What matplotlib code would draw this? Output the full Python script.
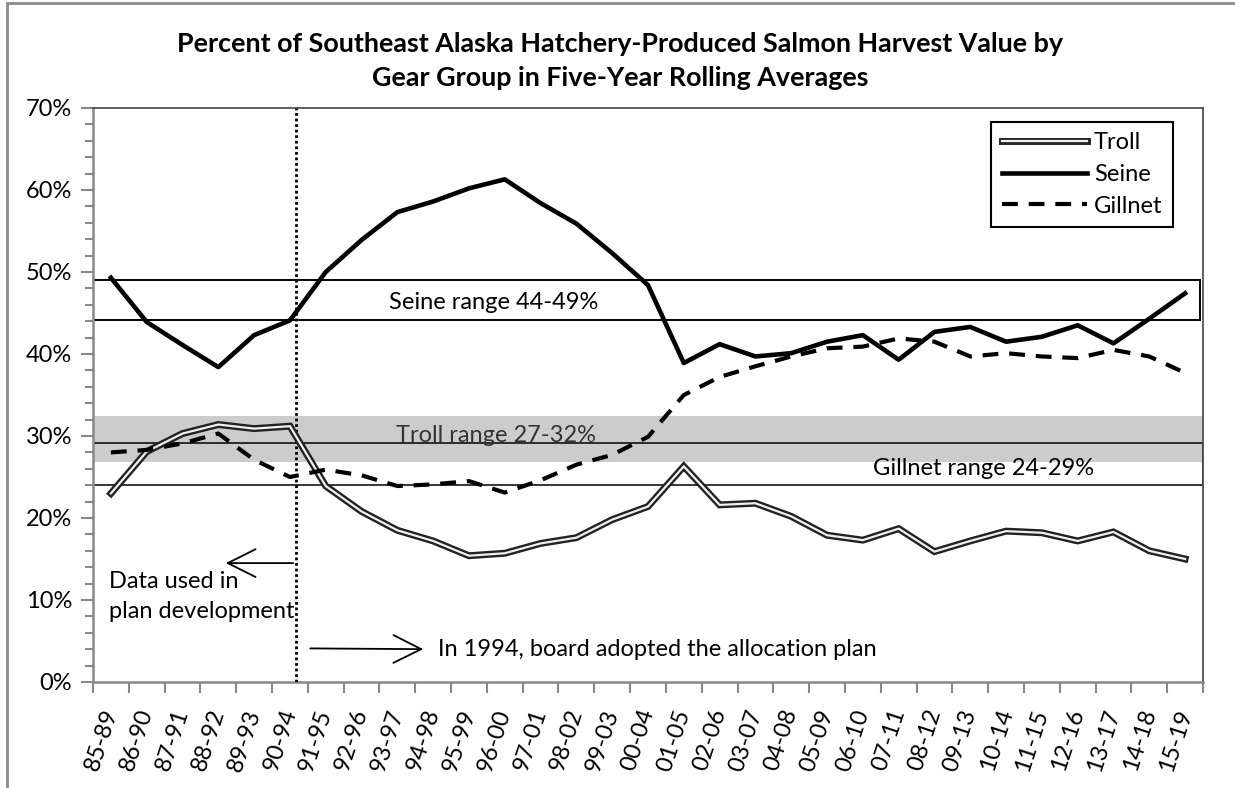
import matplotlib
matplotlib.use("Agg")
import matplotlib.pyplot as plt
import matplotlib.patheffects as pe
from matplotlib.patches import Rectangle

plt.rcParams['font.family'] = ['Lato', 'DejaVu Sans']

periods = ['85-89', '86-90', '87-91', '88-92', '89-93', '90-94', '91-95', '92-96',
           '93-97', '94-98', '95-99', '96-00', '97-01', '98-02', '99-03', '00-04',
           '01-05', '02-06', '03-07', '04-08', '05-09', '06-10', '07-11', '08-12',
           '09-13', '10-14', '11-15', '12-16', '13-17', '14-18', '15-19']

troll = [23.0, 28.1, 30.3, 31.4, 30.9, 31.2, 23.9, 20.8, 18.5, 17.2, 15.4, 15.7,
         16.9, 17.6, 19.8, 21.4, 26.3, 21.6, 21.8, 20.2, 17.9, 17.3, 18.7, 15.9,
         17.2, 18.4, 18.2, 17.2, 18.3, 16.0, 15.0]
seine = [49.3, 43.9, 41.1, 38.4, 42.3, 44.1, 50.0, 53.9, 57.3, 58.6, 60.2, 61.3,
         58.4, 55.9, 52.3, 48.4, 38.9, 41.2, 39.7, 40.1, 41.5, 42.3, 39.3, 42.7,
         43.3, 41.5, 42.1, 43.5, 41.3, 44.3, 47.4]
gillnet = [28.0, 28.3, 29.1, 30.3, 27.1, 25.0, 25.9, 25.2, 23.9, 24.1, 24.5, 23.1,
           24.6, 26.5, 27.7, 29.9, 35.0, 37.2, 38.5, 39.7, 40.7, 40.9, 41.9, 41.5,
           39.7, 40.1, 39.7, 39.5, 40.5, 39.7, 37.7]

seine_range = (44.2, 49.0)
troll_range = (26.8, 32.4)
gillnet_range = (24.0, 29.1)
plan_year_pos = 5.17

x = list(range(len(periods)))

fig = plt.figure(figsize=(12.35, 7.88), dpi=100)
ax = fig.add_axes([93 / 1235, 1 - 682 / 788, 1110 / 1235, 574 / 788])

# outer chart border
fig.patches.append(Rectangle((7 / 1235, -0.05), 1.1, 1.05 - 3 / 788, transform=fig.transFigure,
                             fill=False, edgecolor='#8c8c8c', linewidth=2))

# range bands
ax.axhspan(troll_range[0], troll_range[1], color='#cccccc', lw=0, zorder=1)
ax.add_patch(Rectangle((-0.5, seine_range[0]), 30.93, seine_range[1] - seine_range[0],
                       fill=False, edgecolor='black', lw=1.4, zorder=2))
ax.add_patch(Rectangle((-0.5, gillnet_range[0]), 31, gillnet_range[1] - gillnet_range[0],
                       fill=False, edgecolor='black', lw=1.1, zorder=2))

ax.text(10.7, 46.3, 'Seine range 44-49%', ha='center', va='center', fontsize=17, zorder=3)
ax.text(10.75, 30.0, 'Troll range 27-32%', ha='center', va='center', fontsize=17, color='#333333', zorder=3)
ax.text(24.36, 26.0, 'Gillnet range 24-29%', ha='center', va='center', fontsize=17, zorder=3)

# series
ax.plot(x, troll, color='#f0f0f0', lw=1.6, solid_joinstyle='miter', zorder=5, label='Troll',
        path_effects=[pe.Stroke(linewidth=5, foreground='#222222'), pe.Normal()])
ax.plot(x, seine, color='black', lw=3.3, zorder=5, label='Seine')
ax.plot(x, gillnet, color='black', lw=3.0, dashes=(3.8, 2.6), zorder=5, label='Gillnet')

# plan adoption line and annotations
ax.axvline(plan_year_pos, color='black', lw=2, ls=(0, (1, 1)), zorder=4)
ax.annotate('', xy=(3.13, 14.5), xytext=(plan_year_pos, 14.5),
            arrowprops=dict(arrowstyle='->,head_length=0.5,head_width=0.25', color='black',
                            lw=1.3, mutation_scale=40))
ax.text(-0.06, 12.2, 'Data used in', ha='left', va='center', fontsize=17)
ax.text(-0.06, 8.6, 'plan development', ha='left', va='center', fontsize=17)
ax.annotate('', xy=(8.8, 4.0), xytext=(5.49, 4.1),
            arrowprops=dict(arrowstyle='->,head_length=0.5,head_width=0.25', color='black',
                            lw=1.3, mutation_scale=40))
ax.text(9.13, 4.0, 'In 1994, board adopted the allocation plan', ha='left', va='center', fontsize=17)

# axes
ax.set_xlim(-0.5, 30.5)
ax.set_ylim(0, 70)
ax.set_yticks(range(0, 71, 10))
ax.set_yticklabels([f'{v}%' for v in range(0, 71, 10)], fontsize=17)
ax.set_yticks(range(0, 71, 2), minor=True)
ax.set_xticks([i - 0.5 for i in range(len(periods) + 1)])
ax.set_xticklabels([])
ax.set_xticks(x, minor=True)
ax.set_xticklabels(periods, minor=True, rotation=72, ha='right', va='center',
                   rotation_mode='anchor', fontsize=17)
ax.tick_params(axis='x', which='major', length=8, width=1.5, color='#888888')
ax.tick_params(axis='x', which='minor', length=0, pad=20)
ax.tick_params(axis='y', which='major', length=9, width=1.5, color='#888888', pad=6)
ax.tick_params(axis='y', which='minor', length=6, width=1.5, color='#888888')
for s in ['left', 'bottom']:
    ax.spines[s].set_color('#888888')
    ax.spines[s].set_linewidth(1.8)
for s in ['top', 'right']:
    ax.spines[s].set_color('#444444')
    ax.spines[s].set_linewidth(1.2)

leg = ax.legend(loc='upper right', bbox_to_anchor=(0.973, 0.976), borderaxespad=0,
                fancybox=False, edgecolor='black', fontsize=17, handlelength=3.6,
                labelspacing=0.45, handletextpad=0.3, borderpad=0.45)
leg.get_frame().set_linewidth(1.5)
leg.get_frame().set_alpha(1)

fig.text(0.502, 1 - 44 / 788, 'Percent of Southeast Alaska Hatchery-Produced Salmon Harvest Value by',
         ha='center', va='center', fontsize=19.4, fontweight='bold')
fig.text(0.502, 1 - 78 / 788, 'Gear Group in Five-Year Rolling Averages',
         ha='center', va='center', fontsize=19.4, fontweight='bold')

fig.savefig('out.png', dpi=100)
